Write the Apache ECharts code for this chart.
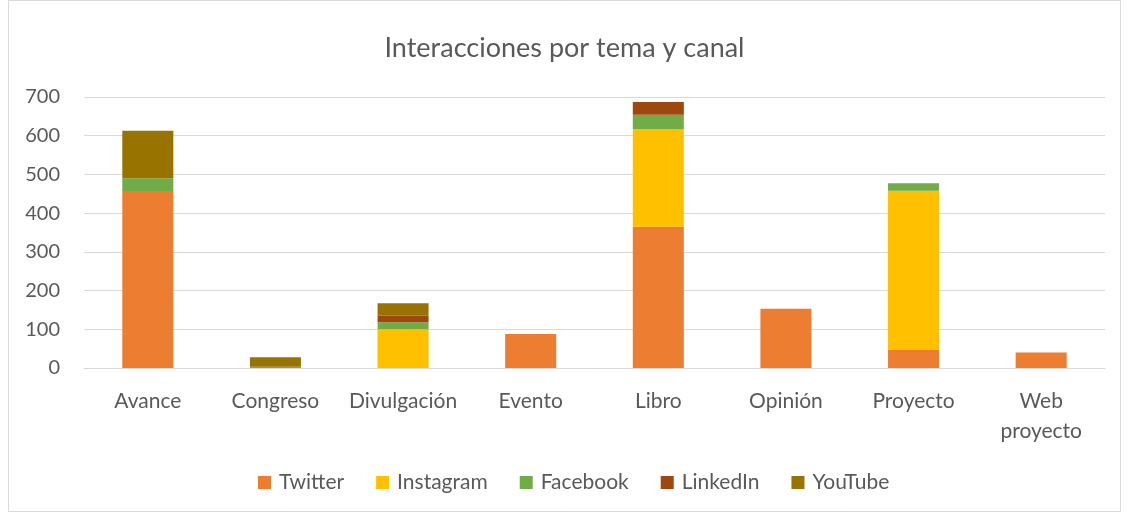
<!DOCTYPE html>
<html>
<head>
<meta charset="utf-8">
<script src="https://cdn.jsdelivr.net/npm/echarts@6/dist/echarts.min.js"></script>
<style>
  html, body { margin: 0; padding: 0; background: #fff; }
  #chart { width: 1129px; height: 517px; }
</style>
</head>
<body>
<div id="chart"></div>
<script>
const categories = ['Avance', 'Congreso', 'Divulgación', 'Evento', 'Libro', 'Opinión', 'Proyecto', 'Web\nproyecto'];
const twitter   = [457, 0, 0, 88, 365, 153, 48, 40];
const instagram = [0, 0, 100, 0, 252, 0, 410, 0];
const facebook  = [33, 3, 18, 0, 37, 0, 19, 0];
const linkedin  = [0, 0, 17, 0, 33, 0, 0, 0];
const youtube   = [123, 25, 32, 0, 0, 0, 0, 0];
const yTicks = [0, 100, 200, 300, 400, 500, 600, 700];

const font = 'Lato, "Open Sans", sans-serif';
const textColor = '#595959';

function bar(name, data, color) {
  return {
    name: name,
    type: 'bar',
    stack: 'total',
    barWidth: '40%',
    data: data,
    itemStyle: { color: color }
  };
}

const chart = echarts.init(document.getElementById('chart'));
chart.setOption({
  animation: false,
  textStyle: { fontFamily: font, color: textColor },
  title: {
    text: 'Interacciones por tema y canal',
    left: 'center',
    top: 30,
    textStyle: { fontFamily: font, fontSize: 27, fontWeight: 'normal', color: textColor }
  },
  graphic: [{
    type: 'rect',
    shape: { x: 8.5, y: 0.5, width: 1112, height: 511 },
    style: { fill: null, stroke: '#d9d9d9', lineWidth: 1 },
    silent: true
  }],
  legend: {
    bottom: 19,
    left: 253,
    itemWidth: 13,
    itemHeight: 13,
    itemGap: 32,
    icon: 'rect',
    textStyle: { fontFamily: font, fontSize: 21, color: textColor, padding: [0, 0, 0, 3] },
    data: ['Twitter', 'Instagram', 'Facebook', 'LinkedIn', 'YouTube']
  },
  grid: { left: 84, right: 24, top: 97, bottom: 149 },
  xAxis: {
    type: 'category',
    data: categories,
    axisLine: { lineStyle: { color: '#d9d9d9' } },
    axisTick: { show: false },
    axisLabel: { fontFamily: font, fontSize: 21, color: textColor, margin: 18, lineHeight: 30, interval: 0 }
  },
  yAxis: {
    type: 'value',
    min: yTicks[0],
    max: yTicks[yTicks.length - 1],
    interval: 100,
    axisLine: { show: false },
    axisTick: { show: false },
    splitLine: { lineStyle: { color: '#d9d9d9', width: 1 } },
    axisLabel: { fontFamily: font, fontSize: 20, color: textColor, margin: 24 }
  },
  series: [
    bar('Twitter', twitter, '#ED7D31'),
    bar('Instagram', instagram, '#FFC000'),
    bar('Facebook', facebook, '#70AD47'),
    bar('LinkedIn', linkedin, '#9E480E'),
    bar('YouTube', youtube, '#997300')
  ]
});
</script>
</body>
</html>
